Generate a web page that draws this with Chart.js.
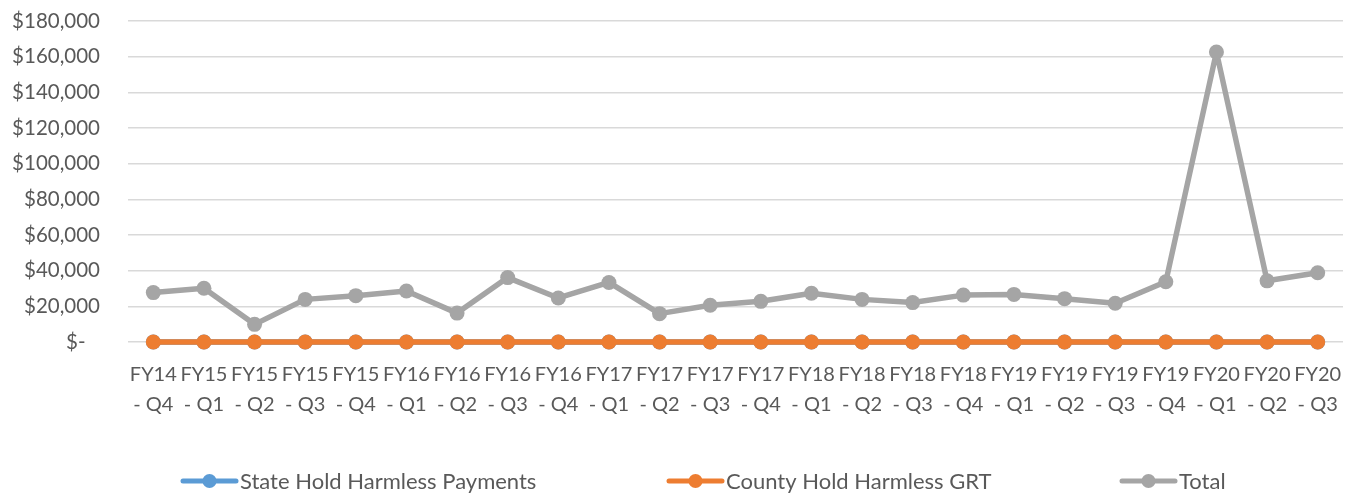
<!DOCTYPE html>
<html>
<head>
<meta charset="utf-8">
<script src="https://cdn.jsdelivr.net/npm/chart.js@4.4.1/dist/chart.umd.min.js"></script>
<style>
  html, body { margin: 0; padding: 0; background: #ffffff; }
  #wrap { width: 1355px; height: 496px; position: relative; }
</style>
</head>
<body>
<div id="wrap"><canvas id="c" width="1355" height="496"></canvas></div>
<script>
// ---- Data ----
const categories = [
  'FY14 - Q4',
  'FY15 - Q1', 'FY15 - Q2', 'FY15 - Q3', 'FY15 - Q4',
  'FY16 - Q1', 'FY16 - Q2', 'FY16 - Q3', 'FY16 - Q4',
  'FY17 - Q1', 'FY17 - Q2', 'FY17 - Q3', 'FY17 - Q4',
  'FY18 - Q1', 'FY18 - Q2', 'FY18 - Q3', 'FY18 - Q4',
  'FY19 - Q1', 'FY19 - Q2', 'FY19 - Q3', 'FY19 - Q4',
  'FY20 - Q1', 'FY20 - Q2', 'FY20 - Q3'
];
const seriesNames = ['State Hold Harmless Payments', 'County Hold Harmless GRT', 'Total'];
const stateHoldHarmless = [0,0,0,0,0,0,0,0,0,0,0,0,0,0,0,0,0,0,0,0,0,0,0,0];
const countyHoldHarmless = [0,0,0,0,0,0,0,0,0,0,0,0,0,0,0,0,0,0,0,0,0,0,0,0];
const total = [
  27700,
  30100, 9900, 23900, 26000,
  28600, 16200, 36100, 24700,
  33400, 15900, 20600, 22800,
  27300, 23900, 22100, 26300,
  26700, 24300, 21700, 33800,
  162600, 34300, 38800
];
const yTickValues = [0, 20000, 40000, 60000, 80000, 100000, 120000, 140000, 160000, 180000];

// ---- Styles ----
const colors = ['#5B9BD5', '#ED7D31', '#A5A5A5'];
const textColor = '#595959';
const fontFamily = 'Lato, "Open Sans", sans-serif';

function fmtMoney(v) {
  if (v === 0) return '$-\u2007\u2009';
  return '$' + v.toLocaleString('en-US');
}

const legendPlugin = {
  id: 'xlLegend',
  afterDraw(chart) {
    const ctx = chart.ctx;
    const xs = [181, 667, 1120];
    const y = 481;
    ctx.save();
    ctx.font = '22px ' + fontFamily;
    ctx.textBaseline = 'middle';
    ctx.textAlign = 'left';
    seriesNames.forEach((name, i) => {
      const x = xs[i];
      ctx.strokeStyle = colors[i];
      ctx.lineWidth = 5;
      ctx.lineCap = 'round';
      ctx.beginPath();
      ctx.moveTo(x + 2, y);
      ctx.lineTo(x + 55, y);
      ctx.stroke();
      ctx.fillStyle = colors[i];
      ctx.beginPath();
      ctx.arc(x + 28.5, y, 7, 0, Math.PI * 2);
      ctx.fill();
      ctx.fillStyle = textColor;
      ctx.fillText(name, x + 59, y + 1);
    });
    ctx.restore();
  }
};

function mkDataset(i, data, order) {
  return {
    label: seriesNames[i],
    data: data,
    borderColor: colors[i],
    backgroundColor: colors[i],
    pointBackgroundColor: colors[i],
    pointBorderColor: colors[i],
    borderWidth: 5.5,
    borderJoinStyle: 'round',
    borderCapStyle: 'round',
    pointRadius: 7.5,
    pointBorderWidth: 0,
    pointHoverRadius: 7.5,
    tension: 0,
    fill: false,
    clip: false,
    order: order
  };
}

new Chart(document.getElementById('c'), {
  type: 'line',
  data: {
    labels: categories.map(c => [c.split(' ')[0], c.split(' ').slice(1).join(' ')]),
    datasets: [
      mkDataset(0, stateHoldHarmless, 3),
      mkDataset(1, countyHoldHarmless, 2),
      mkDataset(2, total, 1)
    ]
  },
  options: {
    responsive: false,
    animation: false,
    devicePixelRatio: 1,
    layout: { autoPadding: false, padding: { left: 0, right: 12, top: 21, bottom: 54 } },
    plugins: {
      legend: { display: false },
      tooltip: { enabled: false },
      title: { display: false }
    },
    scales: {
      x: {
        type: 'category',
        offset: true,
        grid: { display: false, drawTicks: false },
        border: { display: false },
        ticks: {
          color: textColor,
          font: { family: fontFamily, size: 20, lineHeight: 1.52 },
          padding: 17,
          maxRotation: 0,
          minRotation: 0,
          autoSkip: false
        },
        afterFit(scale) { scale.height = 100; scale.paddingLeft = 0; scale.paddingRight = 0; }
      },
      y: {
        min: 0,
        max: 180000,
        grid: { color: '#D9D9D9', lineWidth: 1.5, drawTicks: false },
        border: { display: false },
        afterBuildTicks(scale) { scale.ticks = yTickValues.map(v => ({ value: v })); },
        ticks: {
          color: textColor,
          font: { family: fontFamily, size: 20.5 },
          padding: 28,
          callback: (v) => fmtMoney(v)
        },
        afterFit(scale) { scale.width = 128; scale.paddingTop = 0; scale.paddingBottom = 0; }
      }
    }
  },
  plugins: [legendPlugin]
});
</script>
</body>
</html>
